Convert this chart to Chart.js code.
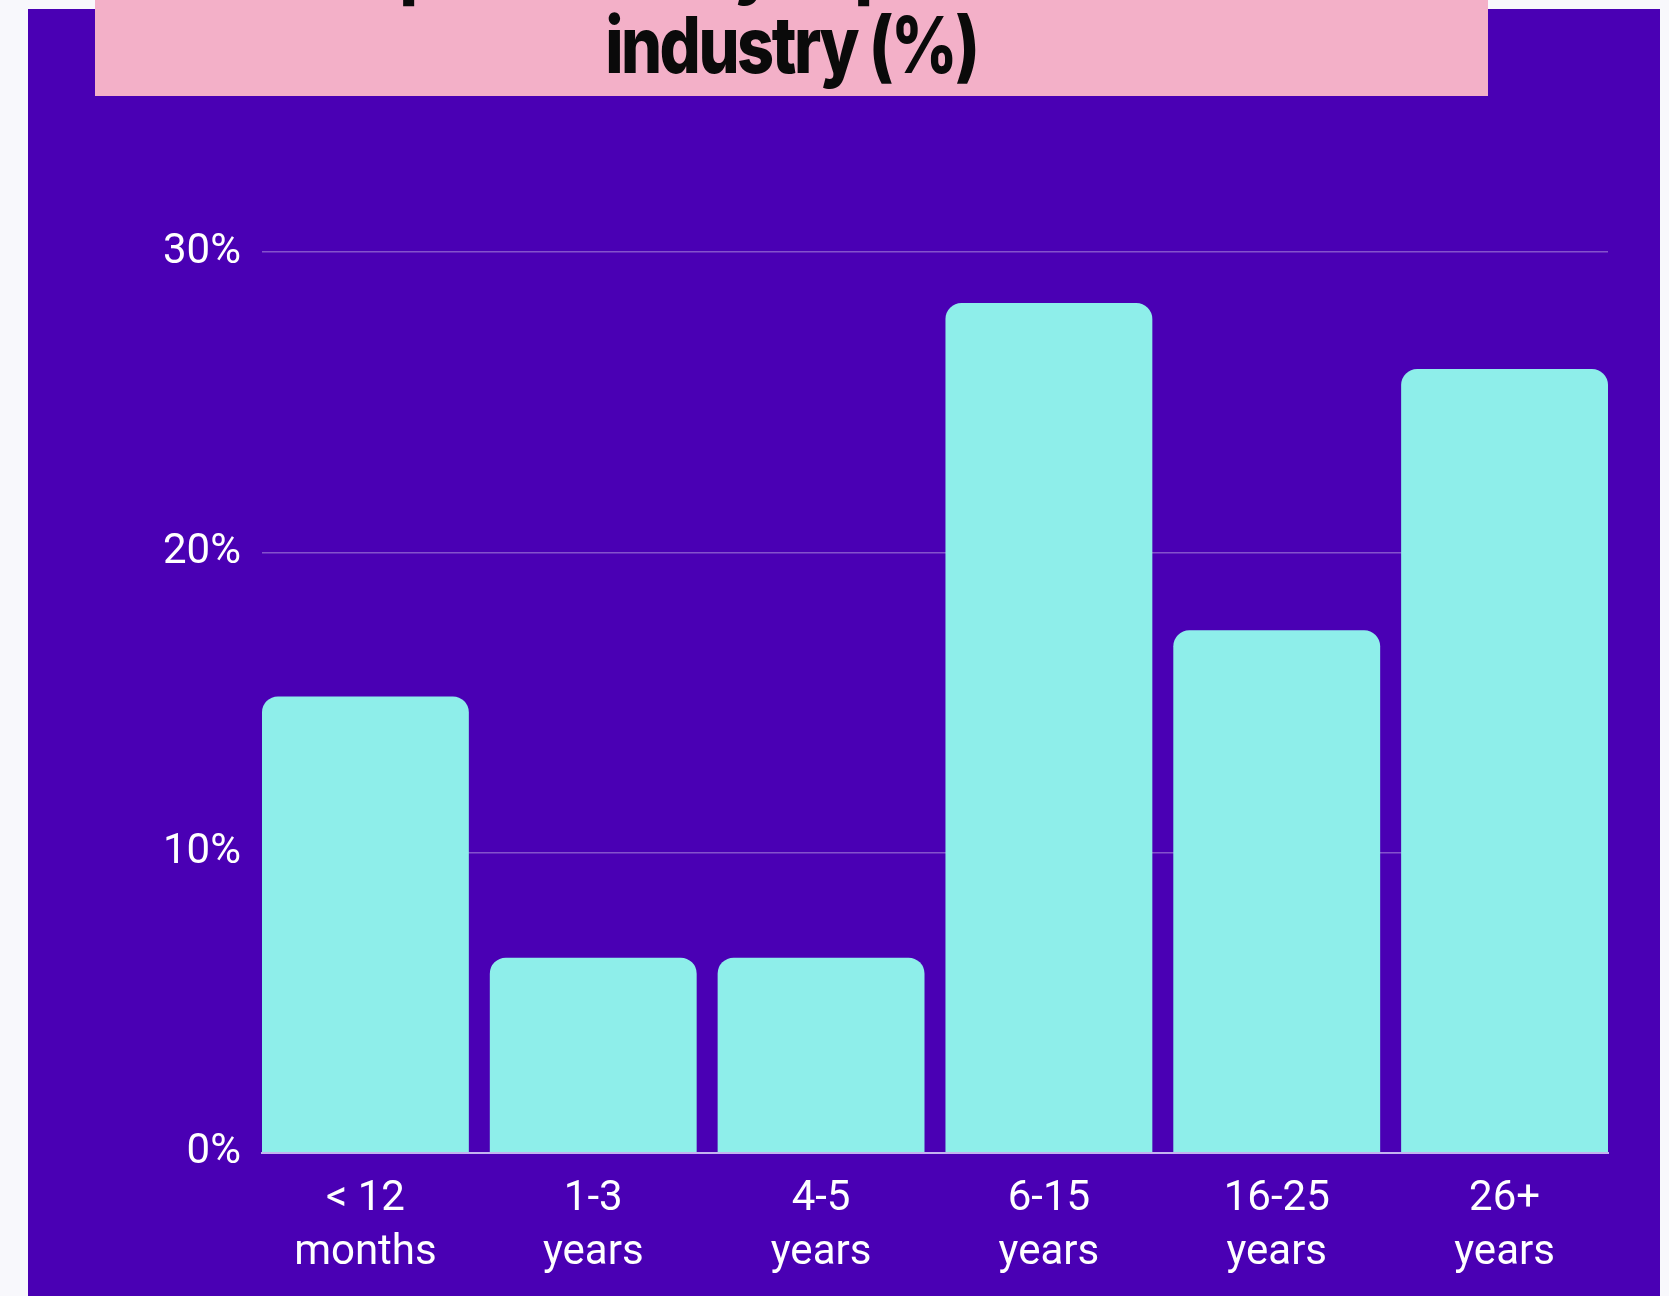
<!DOCTYPE html>
<html>
<head>
<meta charset="utf-8">
<script src="https://cdn.jsdelivr.net/npm/chart.js@4"></script>
<style>
  html, body { margin: 0; padding: 0; }
  body { width: 1669px; height: 1296px; background: #f8f8fc; position: relative; overflow: hidden; }
  #panel { position: absolute; left: 28px; top: 9px; width: 1632px; height: 1287px; background: #4a00b4; }
  #titlebox { position: absolute; left: 95px; top: 0; width: 1393px; height: 96px; background: #f3b0c8; overflow: hidden; }
  .tline { position: absolute; left: 0; width: 100%; text-align: center; font-family: Inter, "Noto Sans", sans-serif; font-weight: 800; font-size: 78px; color: #0a0a0a; letter-spacing: -3px; white-space: nowrap; line-height: 1; }
  .tline span { display: inline-block; transform: scaleX(0.83); transform-origin: center; }
  #wrap { position: absolute; left: 0; top: 0; width: 1669px; height: 1300px; }
</style>
</head>
<body>
<div id="panel"></div>
<div id="titlebox">
  <div class="tline" id="t1" style="top:-77px"><span>Respondents by experience in the</span></div>
  <div class="tline" id="t2" style="top:6px"><span>industry (%)</span></div>
</div>
<div id="wrap"><canvas id="c" width="1669" height="1300"></canvas></div>
<script>
const categories = [["< 12", "months"], ["1-3", "years"], ["4-5", "years"], ["6-15", "years"], ["16-25", "years"], ["26+", "years"]];
const values = [15.2, 6.5, 6.5, 28.3, 17.4, 26.1];
const yTicks = [0, 10, 20, 30];

// gap between bars as a fraction of the category spacing; outer bars sit flush with the plot edges
const GAP = 0.092;

new Chart(document.getElementById('c'), {
  type: 'bar',
  data: {
    labels: categories,
    datasets: [{
      data: values,
      backgroundColor: '#8eeeea',
      borderRadius: 16,
      borderSkipped: 'start',
      barPercentage: 1 - GAP,
      categoryPercentage: 1.0
    }]
  },
  options: {
    responsive: false,
    devicePixelRatio: 1,
    animation: false,
    layout: { padding: { left: 142, right: 61, top: 252, bottom: 0 } },
    plugins: { legend: { display: false }, tooltip: { enabled: false }, title: { display: false } },
    scales: {
      x: {
        afterBuildTicks: (axis) => {
          const n = axis.getLabels().length;
          axis._startValue = -0.5 + GAP / 2;
          axis._valueRange = n - GAP;
        },
        grid: { display: false, drawTicks: false },
        border: { display: true, color: '#c4b4f0', width: 2 },
        ticks: {
          color: '#ffffff',
          font: { family: 'Roboto', size: 42, lineHeight: 1.3 },
          padding: 19,
          maxRotation: 0,
          minRotation: 0
        }
      },
      y: {
        min: 0,
        max: yTicks[yTicks.length - 1],
        afterBuildTicks: (axis) => { axis.ticks = yTicks.map(v => ({ value: v })); },
        grid: {
          drawTicks: false,
          color: (ctx) => ctx.tick && ctx.tick.value === 0 ? 'rgba(0,0,0,0)' : 'rgba(255,255,255,0.32)',
          lineWidth: 1.5
        },
        border: { display: false },
        ticks: {
          color: '#ffffff',
          font: { family: 'Roboto', size: 42 },
          padding: 21,
          callback: (v) => v + '%'
        }
      }
    }
  }
});
</script>
</body>
</html>
